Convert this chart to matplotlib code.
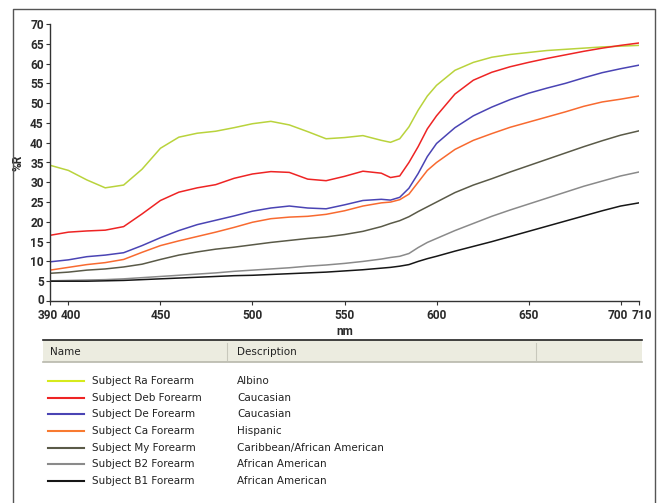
import numpy as np
import matplotlib
matplotlib.use("Agg")
import matplotlib.pyplot as plt
from matplotlib.lines import Line2D
from matplotlib.patches import Rectangle
from matplotlib.transforms import ScaledTranslation

# wavelength grid (nm)
wavelength = [390, 400, 410, 420, 430, 440, 450, 460, 470, 480, 490, 500,
              510, 520, 530, 540, 550, 560, 570, 575, 580, 585, 590, 595,
              600, 610, 620, 630, 640, 650, 660, 670, 680, 690, 700, 710]

# %R per subject
ra = [34.3, 33.0, 30.6, 28.6, 29.3, 33.3, 38.6, 41.4, 42.4, 42.9, 43.8, 44.8,
      45.4, 44.5, 42.8, 41.0, 41.3, 41.8, 40.6, 40.1, 41.0, 44.0, 48.2, 51.8,
      54.5, 58.3, 60.3, 61.6, 62.3, 62.8, 63.3, 63.6, 63.9, 64.2, 64.4, 64.6]
deb = [16.6, 17.4, 17.7, 17.9, 18.8, 22.0, 25.4, 27.5, 28.6, 29.4, 31.0, 32.1,
       32.7, 32.5, 30.8, 30.4, 31.5, 32.8, 32.3, 31.2, 31.6, 35.0, 39.0, 43.5,
       46.8, 52.3, 55.8, 57.8, 59.2, 60.3, 61.3, 62.2, 63.1, 63.9, 64.6, 65.2]
de = [9.9, 10.4, 11.2, 11.6, 12.2, 14.0, 16.0, 17.8, 19.3, 20.4, 21.5, 22.7,
      23.5, 24.0, 23.5, 23.3, 24.3, 25.4, 25.7, 25.5, 26.2, 28.5, 32.2, 36.5,
      39.8, 43.8, 46.8, 49.0, 50.9, 52.5, 53.8, 55.0, 56.4, 57.7, 58.7, 59.6]
ca = [7.8, 8.5, 9.2, 9.7, 10.5, 12.3, 14.0, 15.2, 16.3, 17.4, 18.6, 19.9,
      20.8, 21.2, 21.4, 21.9, 22.8, 24.0, 24.8, 25.0, 25.6, 27.0, 30.0, 33.0,
      35.0, 38.3, 40.6, 42.3, 43.9, 45.2, 46.5, 47.8, 49.2, 50.3, 51.0, 51.8]
my = [7.0, 7.3, 7.8, 8.1, 8.6, 9.3, 10.5, 11.6, 12.4, 13.1, 13.6, 14.2,
      14.8, 15.3, 15.8, 16.2, 16.8, 17.6, 18.8, 19.6, 20.3, 21.3, 22.6, 23.8,
      25.0, 27.4, 29.3, 30.9, 32.6, 34.2, 35.8, 37.4, 39.0, 40.5, 41.9, 43.0]
b2 = [5.1, 5.2, 5.3, 5.4, 5.6, 5.9, 6.2, 6.5, 6.8, 7.1, 7.5, 7.8,
      8.1, 8.4, 8.8, 9.1, 9.5, 10.0, 10.6, 11.0, 11.3, 12.0, 13.5, 14.8,
      15.8, 17.8, 19.6, 21.4, 23.0, 24.5, 26.0, 27.5, 29.0, 30.3, 31.6, 32.6]
b1 = [5.0, 5.0, 5.0, 5.1, 5.2, 5.4, 5.6, 5.8, 6.0, 6.2, 6.4, 6.5,
      6.7, 6.9, 7.1, 7.3, 7.6, 7.9, 8.3, 8.5, 8.8, 9.2, 10.0, 10.7,
      11.3, 12.6, 13.8, 15.0, 16.3, 17.6, 18.9, 20.2, 21.5, 22.8, 24.0, 24.8]

names = ["Subject Ra Forearm", "Subject Deb Forearm", "Subject De Forearm",
         "Subject Ca Forearm", "Subject My Forearm", "Subject B2 Forearm",
         "Subject B1 Forearm"]
descriptions = ["Albino", "Caucasian", "Caucasian", "Hispanic",
                "Caribbean/African American", "African American",
                "African American"]
series = [ra, deb, de, ca, my, b2, b1]
colors = ["#b9d33c", "#ee2424", "#4a44b4", "#f86a30", "#5a5a48", "#8a8a8a", "#161616"]
legend_colors = ["#d6ea1c", "#ee2424", "#4a44b4", "#f87a30", "#5a5a48", "#8a8a8a", "#161616"]

xticks = [390, 400, 450, 500, 550, 600, 650, 700, 710]
yticks = list(range(0, 75, 5))

W, H = 664, 503
fig = plt.figure(figsize=(W / 100, H / 100), dpi=100)

axis_font = dict(family=["Roboto", "DejaVu Sans"],
                 size=8.6, weight="bold", color="#2a2a2a")


def fx(x):
    return x / W


def fy(y):
    return 1 - y / H


# outer frame (open at the bottom)
fig.add_artist(Line2D([fx(13), fx(13), fx(655), fx(655)],
                      [fy(510), fy(9), fy(9), fy(510)],
                      color="#555555", lw=1.0))

ax = fig.add_axes([fx(50), fy(301), fx(639) - fx(50), fy(24) - fy(301)])
for s, c in zip(series, colors):
    ax.plot(wavelength, s, color=c, lw=1.1)

ax.set_xlim(390, 710)
ax.set_ylim(0, 70)
ax.set_xticks(xticks)
ax.set_yticks(yticks)
ax.set_xticklabels([str(t) for t in xticks], fontdict=axis_font)
ax.set_yticklabels([str(t) for t in yticks], fontdict=axis_font)
ax.spines["top"].set_visible(False)
ax.spines["right"].set_visible(False)
for sp in ("left", "bottom"):
    ax.spines[sp].set_color("#333333")
    ax.spines[sp].set_linewidth(1.0)
ax.tick_params(length=3, width=0.8, color="#333333")
ax.tick_params(axis="y", pad=1.5)
ax.tick_params(axis="x", pad=3)
ax.set_xlabel("nm", fontdict=axis_font, labelpad=2)
ax.set_ylabel("%R", fontdict=axis_font, labelpad=4)
ax.set_facecolor("none")

# spread the crowded tick label pairs apart a little
labels = ax.get_xticklabels()
for i, dx in [(0, -1.8), (1, 1.8), (7, -1.8), (8, 1.8)]:
    labels[i].set_transform(labels[i].get_transform()
                            + ScaledTranslation(dx / 72, 0, fig.dpi_scale_trans))
ylab0 = ax.get_yticklabels()[0]
ylab0.set_transform(ylab0.get_transform()
                    + ScaledTranslation(0, 1.5 / 72, fig.dpi_scale_trans))

# legend table header
fig.add_artist(Rectangle((fx(43), fy(362)), fx(642) - fx(43), fy(340) - fy(362),
                         facecolor="#ecece0", edgecolor="none"))
fig.add_artist(Line2D([fx(43), fx(642)], [fy(340), fy(340)], color="#222222", lw=1.2))
fig.add_artist(Line2D([fx(43), fx(642)], [fy(362), fy(362)], color="#b8b8ac", lw=1.2))
for sx in (227, 536):
    fig.add_artist(Line2D([fx(sx), fx(sx)], [fy(343), fy(360)], color="#c8c8bc", lw=0.8))
fig.text(fx(50), fy(352), "Name", fontsize=7.5, color="#222222", va="center")
fig.text(fx(237), fy(352), "Description", fontsize=7.5, color="#222222", va="center")

row_y = [381, 397.7, 414.3, 431, 447.7, 464.3, 481]
for yy, nm, desc, c in zip(row_y, names, descriptions, legend_colors):
    fig.add_artist(Line2D([fx(48), fx(84)], [fy(yy), fy(yy)], color=c, lw=1.5))
    fig.text(fx(92), fy(yy), nm, fontsize=7.5, color="#222222", va="center")
    fig.text(fx(237), fy(yy), desc, fontsize=7.5, color="#222222", va="center")

fig.savefig("out.png", dpi=100)
